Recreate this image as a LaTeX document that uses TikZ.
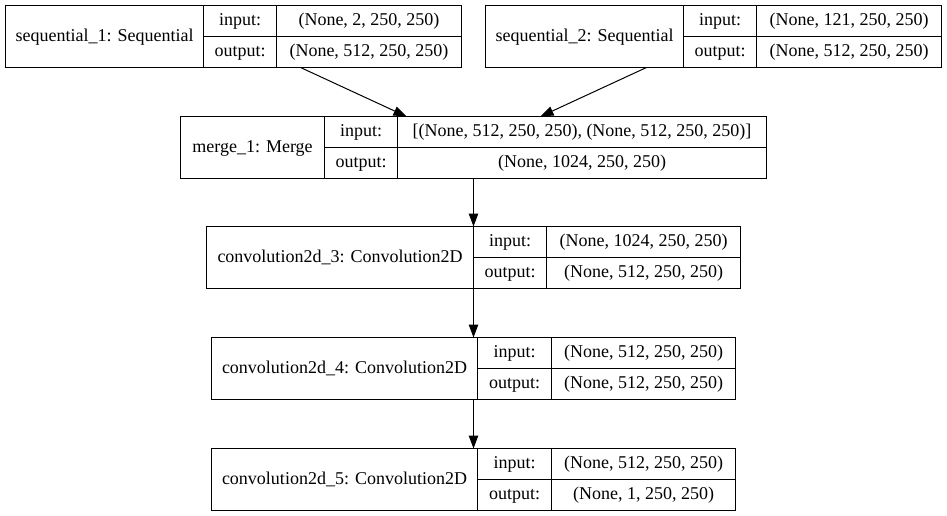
\documentclass[tikz,border=0pt]{standalone}
\usepackage{fontspec}
\setmainfont{Liberation Serif}
\usetikzlibrary{arrows.meta}
\tikzset{
  recbox/.style={draw=black, line width=1pt, fill=none, inner sep=0pt, outer sep=0pt},
  recline/.style={draw=black, line width=1pt},
  txt/.style={inner sep=0pt, font=\fontsize{18}{22}\selectfont, text height=13pt, text depth=3.5pt, anchor=center},
  arr/.style={draw=black, line width=1pt, -{Triangle[length=13pt,width=9.5pt]}}
}
% #1 name, #2 x1, #3 y1, #4 x2, #5 y2, #6 first divider, #7 second divider
\newcommand{\recrd}[7]{%
  \node[recbox, minimum width={#4-#2}, minimum height={#5-#3}] (#1) at ({(#2+#4)/2},{(#3+#5)/2}) {};
  \draw[recline] (#6,#3) -- (#6,#5);
  \draw[recline] (#7,#3) -- (#7,#5);
  \draw[recline] (#6,{(#3+#5)/2}) -- (#4,{(#3+#5)/2});
  \coordinate (#1-l) at ({(#2+#6)/2},{(#3+#5)/2});
  \coordinate (#1-il) at ({(#6+#7)/2},{(3*#3+#5)/4});
  \coordinate (#1-ol) at ({(#6+#7)/2},{(#3+3*#5)/4});
  \coordinate (#1-iv) at ({(#7+#4)/2},{(3*#3+#5)/4});
  \coordinate (#1-ov) at ({(#7+#4)/2},{(#3+3*#5)/4});
}
\newcommand{\rectexts}[4]{%
  \node[txt] (#1-lt) at (#1-l) {#2};
  \node[txt] (#1-ilt) at (#1-il) {input:};
  \node[txt] (#1-olt) at (#1-ol) {output:};
  \node[txt] (#1-ivt) at (#1-iv) {#3};
  \node[txt] (#1-ovt) at (#1-ov) {#4};
}
\begin{document}
\begin{tikzpicture}[x=1pt,y=-1pt]
\useasboundingbox[fill=white] (0,0) rectangle (947,516);
\recrd{seq1}{5.5}{5.5}{461.5}{67.5}{203.5}{276.5}
\rectexts{seq1}{sequential\_1: Sequential}{(None, 2, 250, 250)}{(None, 512, 250, 250)}
\recrd{seq2}{485.5}{5.5}{941.5}{67.5}{683.5}{756.5}
\rectexts{seq2}{sequential\_2: Sequential}{(None, 121, 250, 250)}{(None, 512, 250, 250)}
\recrd{merge}{180.5}{116.5}{766.5}{178.5}{324.5}{397.5}
\rectexts{merge}{merge\_1: Merge}{[(None, 512, 250, 250), (None, 512, 250, 250)]}{(None, 1024, 250, 250)}
\recrd{conv3}{206.5}{226.5}{740.5}{288.5}{473.5}{546.5}
\rectexts{conv3}{convolution2d\_3: Convolution2D}{(None, 1024, 250, 250)}{(None, 512, 250, 250)}
\recrd{conv4}{211.5}{337.5}{735.5}{399.5}{477.5}{551.5}
\rectexts{conv4}{convolution2d\_4: Convolution2D}{(None, 512, 250, 250)}{(None, 512, 250, 250)}
\recrd{conv5}{211.5}{448.5}{735.5}{510.5}{477.5}{551.5}
\rectexts{conv5}{convolution2d\_5: Convolution2D}{(None, 512, 250, 250)}{(None, 1, 250, 250)}
\draw[arr] (seq1) -- (merge);
\draw[arr] (seq2) -- (merge);
\draw[arr] (merge) -- (conv3);
\draw[arr] (conv3) -- (conv4);
\draw[arr] (conv4) -- (conv5);
\end{tikzpicture}
\end{document}
